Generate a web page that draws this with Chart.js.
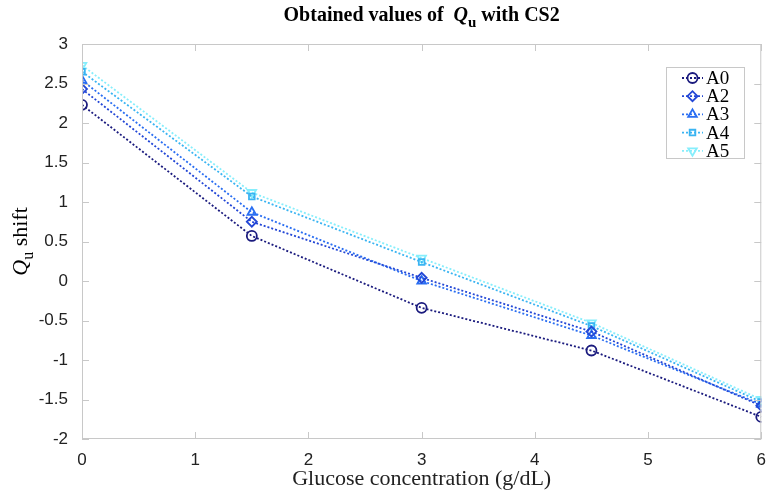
<!DOCTYPE html>
<html>
<head>
<meta charset="utf-8">
<script src="https://cdn.jsdelivr.net/npm/chart.js@4.4.0/dist/chart.umd.min.js"></script>
<style>
  html, body { margin: 0; padding: 0; background: #fff; }
  #wrap { width: 769px; height: 492px; }
</style>
</head>
<body>
<div id="wrap"><canvas id="chart" width="769" height="492"></canvas></div>
<script>
// glucose concentration (g/dL)
const glucose = [0, 1.5, 3, 4.5, 6];

// Qu shift per sample
const a0 = [2.23, 0.57, -0.34, -0.88, -1.72];
const a2 = [2.43, 0.75, 0.04, -0.64, -1.58];
const a3 = [2.54, 0.87, 0.00, -0.69, -1.56];
const a4 = [2.65, 1.07, 0.24, -0.57, -1.53];
const a5 = [2.73, 1.12, 0.29, -0.53, -1.50];

const seriesNames = ['A0', 'A2', 'A3', 'A4', 'A5'];
const xTicks = [0, 1, 2, 3, 4, 5, 6];
const yTicks = [-2, -1.5, -1, -0.5, 0, 0.5, 1, 1.5, 2, 2.5, 3];

const styles = [
    { color: '#1b1b7e', point: 'circle', rot: 0 },
    { color: '#2347d6', point: 'rectRot', rot: 0 },
    { color: '#2a6ef2', point: 'triangle', rot: 0 },
    { color: '#3ab4f2', point: 'rect', rot: 0 },
    { color: '#86eefc', point: 'triangle', rot: 180 }
];

const serif = "'Liberation Serif', 'DejaVu Serif', serif";
const sans = "'Liberation Sans', Arial, sans-serif";

function makeSet(name, values, i) {
    const s = styles[i];
    return {
        label: name,
        data: values.map((v, k) => ({ x: glucose[k], y: v })),
        borderColor: s.color,
        borderWidth: 1.8,
        borderDash: [2, 2],
        pointStyle: s.point,
        pointRotation: s.rot,
        pointRadius: s.point === 'rect' ? 4 : 5,
        pointBorderWidth: 1.8,
        pointBorderColor: s.color,
        pointBackgroundColor: 'rgba(255,255,255,0)',
        tension: 0
    };
}

const frameAndText = {
    id: 'frameAndText',
    afterDraw(chart) {
        const { ctx, chartArea: a, scales } = chart;
        ctx.save();
        // box and inward ticks
        ctx.strokeStyle = '#c8c8c8';
        ctx.lineWidth = 1;
        ctx.setLineDash([]);
        ctx.strokeRect(a.left + 0.5, a.top + 0.5, a.right - a.left - 1, a.bottom - a.top - 1);
        ctx.beginPath();
        xTicks.forEach(t => {
            const px = Math.round(scales.x.getPixelForValue(t)) + 0.5;
            ctx.moveTo(px, a.bottom); ctx.lineTo(px, a.bottom - 7);
            ctx.moveTo(px, a.top); ctx.lineTo(px, a.top + 7);
        });
        yTicks.forEach(t => {
            const py = Math.round(scales.y.getPixelForValue(t)) + 0.5;
            ctx.moveTo(a.left, py); ctx.lineTo(a.left + 7, py);
            ctx.moveTo(a.right, py); ctx.lineTo(a.right - 7, py);
        });
        ctx.stroke();

        // title with subscript
        ctx.fillStyle = '#000';
        ctx.textBaseline = 'alphabetic';
        const cx = (a.left + a.right) / 2;
        const parts = [
            { t: 'Obtained values of  ', f: 'bold 20px ' + serif, dy: 0 },
            { t: 'Q', f: 'bold italic 20px ' + serif, dy: 0 },
            { t: 'u', f: 'bold 15px ' + serif, dy: 6 },
            { t: ' with CS2', f: 'bold 20px ' + serif, dy: 0 }
        ];
        let total = 0;
        parts.forEach(p => { ctx.font = p.f; p.w = ctx.measureText(p.t).width; total += p.w; });
        let x = cx - total / 2;
        parts.forEach(p => { ctx.font = p.f; ctx.fillText(p.t, x, 21 + p.dy); x += p.w; });

        // y axis title
        ctx.save();
        ctx.translate(27, (a.top + a.bottom) / 2);
        ctx.rotate(-Math.PI / 2);
        const yParts = [
            { t: 'Q', f: 'italic 22px ' + serif, dy: 0 },
            { t: 'u', f: '16px ' + serif, dy: 6 },
            { t: ' shift', f: '22px ' + serif, dy: 0 }
        ];
        total = 0;
        yParts.forEach(p => { ctx.font = p.f; p.w = ctx.measureText(p.t).width; total += p.w; });
        x = -total / 2;
        yParts.forEach(p => { ctx.font = p.f; ctx.fillText(p.t, x, p.dy); x += p.w; });
        ctx.restore();

        // legend box
        const lx = 666, ly = 67, lw = 78, lh = 91;
        ctx.fillStyle = '#fff';
        ctx.fillRect(lx, ly, lw, lh);
        ctx.strokeStyle = '#c8c8c8';
        ctx.strokeRect(lx + 0.5, ly + 0.5, lw, lh);
        const helpers = Chart.helpers;
        chart.data.datasets.forEach((ds, i) => {
            const yy = ly + 11 + i * 18.2;
            ctx.strokeStyle = ds.borderColor;
            ctx.lineWidth = 1.8;
            ctx.setLineDash([2, 2]);
            ctx.beginPath();
            ctx.moveTo(lx + 16, yy); ctx.lineTo(lx + 37, yy);
            ctx.stroke();
            ctx.setLineDash([]);
            ctx.fillStyle = 'rgba(255,255,255,0)';
            if (helpers && helpers.drawPoint) {
                helpers.drawPoint(ctx, {
                    pointStyle: ds.pointStyle,
                    rotation: ds.pointRotation,
                    radius: ds.pointRadius,
                    borderWidth: 1.8
                }, lx + 26.5, yy);
            }
            ctx.fillStyle = '#000';
            ctx.font = '19px ' + serif;
            ctx.textBaseline = 'middle';
            ctx.fillText(ds.label, lx + 40, yy + 1);
        });
        ctx.restore();
    }
};

new Chart(document.getElementById('chart'), {
    type: 'line',
    data: {
        datasets: [
            makeSet(seriesNames[0], a0, 0),
            makeSet(seriesNames[1], a2, 1),
            makeSet(seriesNames[2], a3, 2),
            makeSet(seriesNames[3], a4, 3),
            makeSet(seriesNames[4], a5, 4)
        ]
    },
    options: {
        responsive: false,
        animation: false,
        layout: { padding: { left: 0, right: 7, top: 44, bottom: 0 } },
        plugins: {
            legend: { display: false },
            title: { display: false },
            tooltip: { enabled: false }
        },
        scales: {
            x: {
                type: 'linear',
                min: 0,
                max: 6,
                afterFit(s) { s.height = 53; },
                afterBuildTicks(s) { s.ticks = xTicks.map(v => ({ value: v })); },
                grid: { display: false },
                border: { display: false },
                ticks: {
                    color: '#222',
                    padding: 3,
                    font: { family: sans, size: 17 },
                    maxRotation: 0,
                    callback: v => String(v)
                },
                title: {
                    display: true,
                    text: 'Glucose concentration (g/dL)',
                    color: '#222',
                    font: { family: serif, size: 22 },
                    padding: { top: 0, bottom: 0 }
                }
            },
            y: {
                min: -2,
                max: 3,
                afterFit(s) { s.width = 82; },
                afterBuildTicks(s) { s.ticks = yTicks.map(v => ({ value: v })); },
                grid: { display: false },
                border: { display: false },
                ticks: {
                    color: '#222',
                    padding: 6,
                    font: { family: sans, size: 17 },
                    callback: v => String(v)
                }
            }
        }
    },
    plugins: [frameAndText]
});
</script>
</body>
</html>
